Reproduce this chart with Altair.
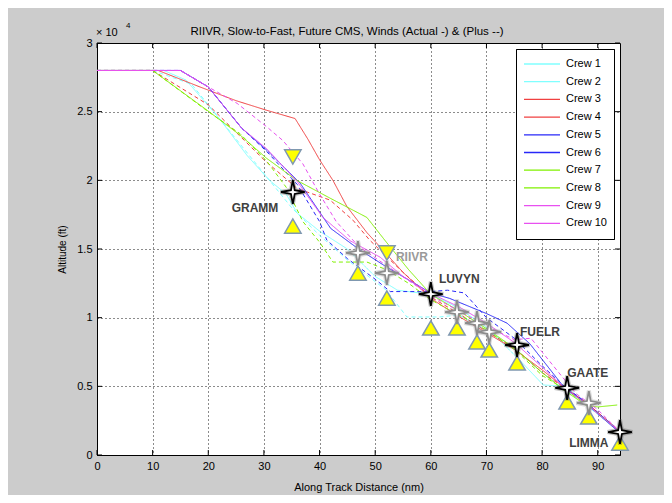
import altair as alt
import pandas as pd

TITLE = "RIIVR, Slow-to-Fast, Future CMS, Winds (Actual -) & (Plus --)"
crews = [f"Crew {i}" for i in range(1, 11)]
crew_colors = ["#80ffff", "#80ffff", "#f04040", "#f04040", "#2828f8",
               "#2828f8", "#80f000", "#80f000", "#e850f0", "#e850f0"]
crew_dashes = [[4, 3], [1, 0]] * 5

# --- trajectories (along-track distance nm, altitude ft) ---
c1_x = [0, 10, 17, 25, 30, 35, 40, 45, 52, 55.7, 58, 61.6, 65, 70, 75, 80, 84, 88, 94]
c1_a = [28000, 28000, 27000, 23000, 20500, 18000, 16000, 14200, 12000, 10050, 10050, 10050, 10200, 9100, 7800, 6000, 4800, 3600, 1700]
c2_x = [0, 12, 16, 22, 27, 31, 34, 36, 40, 45, 50, 54, 60, 65, 70, 76, 80.2, 84, 88, 94]
c2_a = [28000, 28000, 27300, 24500, 21800, 20000, 19000, 17600, 16300, 15000, 13000, 12000, 11700, 10700, 9300, 6900, 5100, 5000, 3800, 1700]
c3_x = [0, 10, 20, 30, 36, 41.9, 46, 49, 55, 60, 65, 70, 75, 80, 84, 88, 94]
c3_a = [28000, 28000, 25500, 21500, 19400, 18560, 17100, 15650, 13300, 11500, 10300, 9000, 7800, 6000, 4900, 3800, 1700]
c4_x = [0, 11, 18.5, 25, 30.5, 35.6, 37.9, 40, 42.4, 44.9, 48.5, 51, 55, 60, 65, 70, 75, 80, 84, 88, 94]
c4_a = [28000, 28000, 26800, 25800, 25100, 24500, 23000, 21500, 20000, 18100, 16200, 15100, 13300, 11400, 10100, 8900, 7700, 6200, 4900, 3800, 1700]
c5_x = [0, 15, 20, 26, 30.5, 36, 40, 41.3, 45, 50, 52.7, 60, 63, 66, 70, 75, 80, 84, 88, 94]
c5_a = [28000, 28000, 26800, 23800, 22100, 19700, 17000, 15650, 14300, 12800, 11900, 11900, 12000, 11800, 10000, 8500, 6500, 5000, 3800, 1700]
c6_x = [0, 15, 20, 26, 30.5, 36.5, 39.5, 42, 47, 52, 60, 63.4, 70, 73.7, 77.8, 84, 88, 94]
c6_a = [28000, 28000, 26800, 23800, 22200, 19800, 18000, 16500, 15000, 13700, 11800, 11400, 10300, 9600, 8100, 4900, 3700, 1600]
c7_x = [0, 10, 20, 25.7, 30.5, 34, 37, 40, 42.4, 48.5, 52, 56, 60, 65, 70, 75, 80, 84, 88, 94]
c7_a = [28000, 28000, 25000, 23400, 21400, 19500, 17000, 15500, 14050, 14050, 13500, 12500, 11300, 10200, 9100, 7700, 5800, 4800, 3700, 1700]
c8_x = [0, 10, 19.8, 25.7, 30.5, 35.9, 41.9, 48.5, 52, 56, 60, 65, 70, 75, 80, 84, 88, 90, 93.5]
c8_a = [28000, 28000, 25100, 23300, 21600, 20000, 18700, 17300, 15500, 13500, 11700, 10500, 9200, 7800, 6000, 4700, 3600, 3500, 3640]
c9_x = [0, 15, 20, 25.2, 30.5, 33.4, 37, 40, 43, 47, 52, 60, 65, 70, 75, 78, 80, 83, 86, 90, 94]
c9_a = [28000, 28000, 26800, 25600, 23900, 22900, 21200, 19000, 17000, 15200, 13800, 11600, 10500, 9400, 8400, 8500, 7500, 6000, 4500, 3300, 1700]
c10_x = [0, 15, 20, 26, 30.5, 36, 40.6, 45.5, 50.9, 55, 59.8, 65, 70, 75, 80, 84, 88, 94]
c10_a = [28000, 28000, 26800, 23800, 22300, 19900, 17300, 15600, 14400, 13000, 11800, 10800, 9600, 8200, 6400, 4900, 3700, 1700]

# --- waypoints ---
wp_x = [35.2, 46.9, 52.1, 60.0, 64.7, 68.3, 70.5, 75.5, 84.5, 88.4, 94.0]
wp_alt = [19150, 14710, 13250, 11720, 10410, 9610, 8960, 8010, 4880, 3790, 1670]
wp_kind = ["named", "other", "other", "named", "other", "other", "other", "named", "named", "other", "named"]
down_x = [35.2, 52.1]
down_alt = [21700, 14710]
up_x = [35.2, 46.9, 52.1, 60.0, 64.7, 68.3, 70.5, 75.5, 84.5, 88.4, 94.0]
up_alt = [16670, 13250, 11430, 9250, 9250, 8230, 7650, 6700, 3860, 2770, 870]
label_text = ["GRAMM", "RIIVR", "LUVYN", "FUELR", "GAATE", "LIMMA"]
label_x = [28.4, 56.6, 65.1, 79.6, 88.2, 88.4]
label_alt = [17980, 14410, 12810, 8950, 5970, 870]
label_kind = ["named", "other", "named", "named", "named", "named"]

x_ticks = list(range(0, 91, 10))
y_ticks = list(range(0, 30001, 5000))

traj = [(c1_x, c1_a), (c2_x, c2_a), (c3_x, c3_a), (c4_x, c4_a), (c5_x, c5_a),
        (c6_x, c6_a), (c7_x, c7_a), (c8_x, c8_a), (c9_x, c9_a), (c10_x, c10_a)]
rows = []
for name, (xs_, ays) in zip(crews, traj):
    for i, (xv, av) in enumerate(zip(xs_, ays)):
        rows.append({"crew": name, "x": xv, "alt": av, "i": i})
df = pd.DataFrame(rows)

FONT = "Liberation Sans"
xs = alt.Scale(domain=[0, 94], nice=False, zero=False)
ys = alt.Scale(domain=[0, 30000], nice=False, zero=False)

x_axis = alt.Axis(
    values=x_ticks, title="Along Track Distance (nm)", grid=True,
    gridDash=[1, 3], gridColor="black", gridOpacity=0.9, ticks=False,
    domainColor="black", labelColor="black", labelFont=FONT, labelFontSize=11,
    labelFlush=False, labelPadding=5, titleFont=FONT, titleFontSize=11,
    titleFontWeight="normal", titleColor="black", titleY=32, titleBaseline="middle")
y_axis = alt.Axis(
    values=y_ticks, labelExpr="datum.value/10000", title="Altitude (ft)", grid=True,
    gridDash=[1, 3], gridColor="black", gridOpacity=0.9, ticks=False,
    domainColor="black", labelColor="black", labelFont=FONT, labelFontSize=11,
    labelPadding=5, titleFont=FONT, titleFontSize=10, titleFontWeight="normal",
    titleColor="black", titleX=-35, titleY=206, titleBaseline="middle",
    titleAngle=-90, titleAlign="center")

leg = alt.Legend(orient="none", legendX=419, legendY=6, title=None,
                 symbolType="stroke", symbolSize=1296, symbolStrokeWidth=1.3,
                 labelFontSize=11, labelFont=FONT, labelColor="black",
                 fillColor="white", strokeColor="black", padding=7,
                 clipHeight=16, rowPadding=1.7, labelOffset=5, cornerRadius=0)


def X(f):
    return alt.X(f"{f}:Q", scale=xs, axis=x_axis, title="Along Track Distance (nm)")


def Y(f):
    return alt.Y(f"{f}:Q", scale=ys, axis=y_axis, title="Altitude (ft)")


lines = alt.Chart(df).mark_line(strokeWidth=1, clip=True).encode(
    x=X("x"), y=Y("alt"),
    color=alt.Color("crew:N", scale=alt.Scale(domain=crews, range=crew_colors), sort=crews, legend=leg),
    strokeDash=alt.StrokeDash("crew:N", scale=alt.Scale(domain=crews, range=crew_dashes), sort=crews, legend=leg),
    order=alt.Order("i:Q"),
    detail="crew:N",
)

tri_dn = alt.Chart(pd.DataFrame({"x": down_x, "alt": down_alt})).mark_point(
    shape="triangle-down", filled=True, fill="#ffff00", stroke="#7f98b0",
    strokeWidth=1.5, size=270, opacity=1).encode(x=X("x"), y=Y("alt"))
tri_up = alt.Chart(pd.DataFrame({"x": up_x, "alt": up_alt})).mark_point(
    shape="triangle-up", filled=True, fill="#ffff00", stroke="#7f98b0",
    strokeWidth=1.5, size=270, opacity=1).encode(x=X("x"), y=Y("alt"))

STAR = "M0,-1L0.16,-0.16L1,0L0.16,0.16L0,1L-0.16,0.16L-1,0L-0.16,-0.16Z"
wp_df = pd.DataFrame({"x": wp_x, "alt": wp_alt, "kind": wp_kind})
star_glow = alt.Chart(wp_df).mark_point(
    shape=STAR, filled=False, strokeWidth=4, size=620, opacity=0.35).encode(
    x=X("x"), y=Y("alt"),
    stroke=alt.Stroke("kind:N", scale=alt.Scale(domain=["named", "other"], range=["#555555", "#999999"]), legend=None))
stars = alt.Chart(wp_df).mark_point(
    shape=STAR, filled=True, fill="white", strokeWidth=1.8, size=560, opacity=1).encode(
    x=X("x"), y=Y("alt"),
    stroke=alt.Stroke("kind:N", scale=alt.Scale(domain=["named", "other"], range=["#000000", "#8c8c8c"]), legend=None))

labels = alt.Chart(pd.DataFrame({"x": label_x, "alt": label_alt, "t": label_text, "kind": label_kind})).mark_text(
    font=FONT, fontSize=12, fontWeight="bold", align="center", baseline="middle").encode(
    x=X("x"), y=Y("alt"), text="t:N",
    color=alt.Color("kind:N", scale=alt.Scale(domain=["named", "other"], range=["#404040", "#9a9a9a"]), legend=None))

tick_style = dict(color="black", strokeWidth=1)
xt = pd.DataFrame({"x": x_ticks})
yt = pd.DataFrame({"alt": y_ticks})
tb = alt.Chart(xt).mark_rule(**tick_style).encode(x=X("x"), y=alt.value(412), y2=alt.value(407))
tt = alt.Chart(xt).mark_rule(**tick_style).encode(x=X("x"), y=alt.value(0), y2=alt.value(5))
tl = alt.Chart(yt).mark_rule(**tick_style).encode(y=Y("alt"), x=alt.value(0), x2=alt.value(5))
tr = alt.Chart(yt).mark_rule(**tick_style).encode(y=Y("alt"), x=alt.value(523), x2=alt.value(518))

title_txt = alt.Chart(pd.DataFrame({"t": [TITLE]})).mark_text(
    font=FONT, fontSize=11.5, align="center", baseline="middle", color="black").encode(
    text="t:N", x=alt.value(250), y=alt.value(-11))
exp_base = alt.Chart(pd.DataFrame({"t": ["× 10"]})).mark_text(
    font=FONT, fontSize=11, align="left", baseline="middle", color="black").encode(
    text="t:N", x=alt.value(-1), y=alt.value(-10))
exp_sup = alt.Chart(pd.DataFrame({"t": ["4"]})).mark_text(
    font=FONT, fontSize=8, align="left", baseline="middle", color="black").encode(
    text="t:N", x=alt.value(29), y=alt.value(-17))

chart = alt.layer(lines, tb, tt, tl, tr, tri_dn, tri_up, star_glow, stars, labels,
                  title_txt, exp_base, exp_sup).resolve_scale(
    color="independent", stroke="independent"
).properties(
    width=523, height=412,
    background="#cccccc",
    padding={"left": 89, "top": 35, "right": 44, "bottom": 40},
    autosize=alt.AutoSizeParams(type="none"),
).configure_view(stroke="black", strokeWidth=1, fill="white")

chart.save("out.html", embed_options={"renderer": "svg", "actions": False})
